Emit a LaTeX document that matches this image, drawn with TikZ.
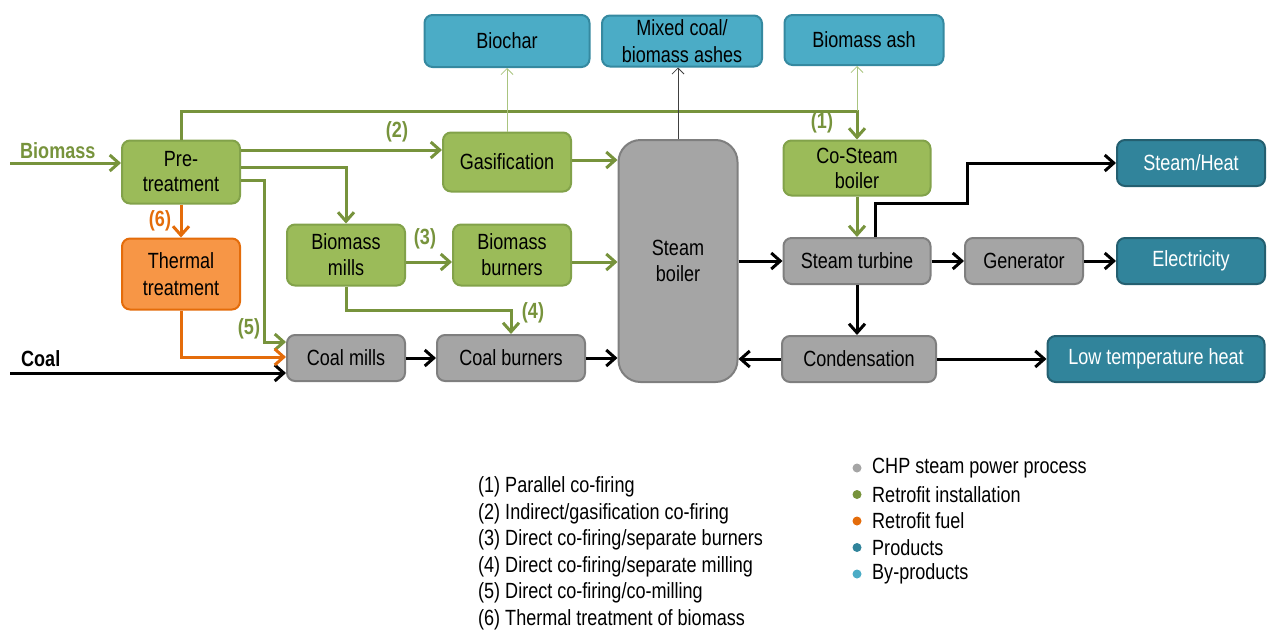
\documentclass[tikz,border=0pt]{standalone}
\usepackage{fontspec}
\setmainfont{Liberation Sans}[FakeStretch=0.82]
\usetikzlibrary{arrows.meta}
\definecolor{gfill}{HTML}{9BBB59}
\definecolor{gline}{HTML}{77933C}
\definecolor{gborder}{HTML}{82A24A}
\definecolor{ofill}{HTML}{F79646}
\definecolor{oline}{HTML}{E46C0A}
\definecolor{grfill}{HTML}{A5A5A5}
\definecolor{grline}{HTML}{7F7F7F}
\definecolor{pfill}{HTML}{31849B}
\definecolor{pline}{HTML}{245F70}
\definecolor{bfill}{HTML}{4BACC6}
\definecolor{bline}{HTML}{3589A0}
\definecolor{thing}{HTML}{A9C47F}
\tikzset{
  box/.style={rounded corners=8pt, line width=2pt, align=center, inner sep=0pt,
    font=\fontsize{22}{25}\selectfont},
  gbox/.style={box, fill=gfill, draw=gborder},
  obox/.style={box, fill=ofill, draw=oline},
  kbox/.style={box, fill=grfill, draw=grline},
  pbox/.style={box, fill=pfill, draw=pline, text=white},
  bbox/.style={box, fill=bfill, draw=bline},
  tip/.style={-{Straight Barb[length=9pt,width=16pt,line width=3pt]}},
  garr/.style={tip, draw=gline, line width=3pt},
  oarr/.style={tip, draw=oline, line width=3pt},
  karr/.style={tip, draw=black, line width=3pt},
  thinarr/.style={-{Straight Barb[length=6pt,width=12pt,line width=0.8pt]}, line width=0.8pt},
  num/.style={font=\fontsize{22}{24}\selectfont\bfseries, text=gline, inner sep=0pt},
  leg/.style={anchor=west, font=\fontsize{22}{24}\selectfont, inner sep=0pt},
}
\begin{document}
\begin{tikzpicture}[x=1pt,y=-1pt]
\useasboundingbox (0,0) rectangle (1268,632);
% nodes
\node[gbox, minimum width=118, minimum height=63] (pre) at (181,172) {Pre-\\treatment};
\node[obox, minimum width=118, minimum height=71, font=\fontsize{22}{27}\selectfont] (therm) at (181,274) {Thermal\\treatment};
\node[gbox, minimum width=118, minimum height=61, font=\fontsize{22}{26}\selectfont] (bmill) at (346,255) {Biomass\\mills};
\node[gbox, minimum width=118, minimum height=61, font=\fontsize{22}{26}\selectfont] (bburn) at (512,255) {Biomass\\burners};
\node[gbox, minimum width=128, minimum height=59] (gas) at (507,162) {Gasification};
\node[kbox, rounded corners=22pt, minimum width=119, minimum height=242, font=\fontsize{22}{26}\selectfont] (boil) at (678,261) {Steam\\boiler};
\node[gbox, minimum width=147, minimum height=55] (cosb) at (857,168) {Co-Steam\\boiler};
\node[kbox, minimum width=147, minimum height=46] (stt) at (857,261) {Steam turbine};
\node[kbox, minimum width=118, minimum height=46] (gen) at (1024,261) {Generator};
\node[kbox, minimum width=154, minimum height=46] (cond) at (859,359) {Condensation};
\node[kbox, minimum width=118, minimum height=46] (cmill) at (346,358) {Coal mills};
\node[kbox, minimum width=148, minimum height=46] (cburn) at (511,358) {Coal burners};
\node[bbox, minimum width=165, minimum height=52] (bchar) at (507,41) {Biochar};
\node[bbox, minimum width=160, minimum height=51, font=\fontsize{22}{27}\selectfont] (mash) at (682,41) {Mixed coal/\\biomass ashes};
\node[bbox, minimum width=159, minimum height=50] (bash) at (864,40) {Biomass ash};
\node[pbox, minimum width=148, minimum height=46] (sh) at (1191,163) {Steam/Heat};
\node[pbox, minimum width=148, minimum height=46] (elec) at (1191,261) {Electricity};
\node[pbox, minimum width=217, minimum height=46] (lth) at (1156,359) {Low temperature heat};
% inputs
\coordinate (bioin) at (10,163);
\coordinate (coalin) at (10,373);
\coordinate (topline) at (181,111);
\node[num, anchor=west] (biolab) at (20,151) {Biomass};
\node[num, anchor=west, text=black] (coallab) at (21,359) {Coal};
% connectors
\draw[garr] (bioin) -- (bioin -| pre.west);
\draw[karr] (coalin) -- (coalin -| cmill.west);
\draw[garr] (pre.north) -- (topline) -| (cosb.north);
\draw[thinarr, draw=thing] (cosb.north |- topline) -- (cosb.north |- bash.south);
\draw[garr] (pre.east |- 0,150) -- (gas.west |- 0,150);
\draw[garr] (pre.east |- 0,167) -| (bmill.north);
\draw[garr] (pre.east |- 0,180) -| (264,342) -- (cmill.west |- 0,342);
\draw[oarr] (pre.south) -- (therm.north);
\draw[oarr] (therm.south) |- (cmill.west |- 0,357);
\draw[garr] (bmill.east |- 0,262) -- (bburn.west |- 0,262);
\draw[garr] (bmill.south) -- ++(0,24) -| (cburn.north);
\draw[garr] (gas.east |- 0,160) -- (boil.west |- 0,160);
\draw[garr] (bburn.east |- 0,262) -- (boil.west |- 0,262);
\draw[karr] (cmill) -- (cburn);
\draw[karr] (cburn.east) -- (boil.west |- cburn.east);
\draw[thinarr, draw=thing] (gas.north) -- (bchar.south);
\draw[thinarr, draw=black!75] (boil.north) -- (boil.north |- mash.south);
\draw[garr] (cosb.south) -- (stt.north);
\draw[karr] (boil.east |- stt.west) -- (stt.west);
\draw[karr] (stt.north -| 875,0) -- (875,203) -- (967,203) |- (sh.west);
\draw[karr] (stt) -- (gen);
\draw[karr] (gen) -- (elec);
\draw[karr] (stt.south) -- (stt.south |- cond.north);
\draw[karr] (cond.west) -- (boil.east |- cond.west);
\draw[karr] (cond.east) -- (lth.west);
% numbered labels
\node[num] (n1) at (822,123) {(1)};
\node[num] (n2) at (397,132) {(2)};
\node[num] (n3) at (425,239) {(3)};
\node[num] (n4) at (533,313) {(4)};
\node[num] (n5) at (249,329) {(5)};
\node[num, text=oline] (n6) at (160,221) {(6)};
% legend list
\node[leg] (l1) at (478,487) {(1) Parallel co-firing};
\node[leg] (l2) at (478,513.5) {(2) Indirect/gasification co-firing};
\node[leg] (l3) at (478,540) {(3) Direct co-firing/separate burners};
\node[leg] (l4) at (478,566.5) {(4) Direct co-firing/separate milling};
\node[leg] (l5) at (478,593) {(5) Direct co-firing/co-milling};
\node[leg] (l6) at (478,619.5) {(6) Thermal treatment of biomass};
% colour legend
\fill[grfill] (857,468) circle (4.5);
\fill[gline] (857,494.5) circle (4.5);
\fill[oline] (857,521) circle (4.5);
\fill[pfill] (857,547.5) circle (4.5);
\fill[bfill] (857,574) circle (4.5);
\node[leg] (c1) at (872,468) {CHP steam power process};
\node[leg] (c2) at (872,494.5) {Retrofit installation};
\node[leg] (c3) at (872,521) {Retrofit fuel};
\node[leg] (c4) at (872,547.5) {Products};
\node[leg] (c5) at (872,574) {By-products};
\end{tikzpicture}
\end{document}
